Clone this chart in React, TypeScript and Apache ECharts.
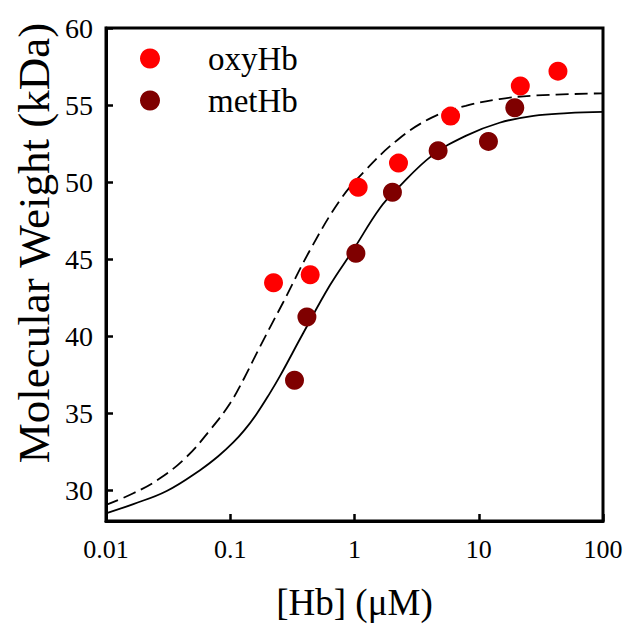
import React, { useEffect, useRef } from "react";
import * as echarts from "echarts";

const xTickLabels = ["0.01", "0.1", "1", "10", "100"];
const yTickValues = [30, 35, 40, 45, 50, 55, 60];

const oxyX = [0.223, 0.44, 1.07, 2.26, 5.93, 21.6, 43.4];
const oxyY = [43.46, 43.99, 49.66, 51.23, 54.28, 56.24, 57.2];

const metX = [0.329, 0.414, 1.026, 2.02, 4.71, 11.97, 19.5];
const metY = [37.13, 41.24, 45.38, 49.34, 52.04, 52.64, 54.82];

const solidX = [0.01, 0.0166, 0.0308, 0.0571, 0.08, 0.1057, 0.13, 0.163, 0.2085, 0.251, 0.387, 0.634, 0.977, 1.6, 2.23, 4.18, 7.85, 14.7, 27.6, 51.8, 100];
const solidY = [28.5, 29.1, 29.95, 31.3, 32.2, 33.1, 33.9, 34.95, 36.3, 37.4, 40.2, 43.3, 45.6, 48.3, 49.6, 51.7, 53.0, 53.85, 54.3, 54.47, 54.55];

const dashX = [0.01, 0.0166, 0.0272, 0.0446, 0.0687, 0.0995, 0.13, 0.163, 0.21, 0.267, 0.438, 0.764, 1.19, 2.23, 4.18, 7.85, 14.7, 27.6, 100];
const dashY = [29.05, 29.8, 30.77, 32.17, 33.9, 35.63, 37.3, 38.88, 40.6, 42.2, 45.57, 48.82, 50.66, 52.75, 54.18, 54.95, 55.39, 55.61, 55.76];

const yTitle = "Molecular Weight (kDa)";
const xTitle = "[Hb] (μM)";

const zip = (xs: number[], ys: number[]) => xs.map((x, i) => [x, ys[i]]);

const FONT = "'Liberation Serif', 'Times New Roman', serif";

export default function App() {
  const ref = useRef<HTMLDivElement>(null);
  useEffect(() => {
    if (!ref.current) return;
    const chart = echarts.init(ref.current, undefined, { renderer: "svg" });
    chart.setOption({
      animation: false,
      backgroundColor: "#ffffff",
      grid: {
        left: 106,
        right: 21,
        top: 28,
        bottom: 103,
        show: true,
        borderColor: "#000",
        borderWidth: 3,
        containLabel: false,
        outerBoundsMode: "none",
      },
      graphic: [
        {
          type: "text",
          x: 34,
          y: 243,
          rotation: Math.PI / 2,
          style: {
            text: yTitle,
            fontFamily: FONT,
            fontSize: 45,
            fill: "#000",
            textAlign: "center",
            textVerticalAlign: "middle",
          },
        },
      ],
      legend: {
        data: ["oxyHb", "metHb"],
        orient: "vertical",
        left: 135,
        top: 37,
        itemWidth: 20,
        itemHeight: 20,
        itemGap: 9,
        icon: "circle",
        textStyle: { fontFamily: FONT, fontSize: 33, color: "#000", padding: [0, 0, 0, 43] },
      },
      xAxis: {
        type: "log",
        logBase: 10,
        min: 0.01,
        max: 100,
        name: xTitle,
        nameLocation: "middle",
        nameGap: 63,
        nameTextStyle: { fontFamily: FONT, fontSize: 37, color: "#000" },
        axisLine: { show: true, lineStyle: { color: "#000", width: 3 } },
        axisTick: { show: true, inside: true, length: 7, lineStyle: { color: "#000", width: 2.5 } },
        minorTick: { show: false },
        splitLine: { show: false },
        axisLabel: {
          fontFamily: FONT,
          fontSize: 26,
          color: "#000",
          margin: 15,
          formatter: (v: number) => xTickLabels[Math.round(Math.log10(v)) + 2] ?? String(v),
        },
      },
      yAxis: {
        type: "value",
        min: 28,
        max: 60,
        axisLine: { show: true, lineStyle: { color: "#000", width: 3 } },
        axisTick: { show: true, inside: true, length: 7, lineStyle: { color: "#000", width: 2.5 }, customValues: yTickValues },
        splitLine: { show: false },
        axisLabel: {
          fontFamily: FONT,
          fontSize: 28,
          color: "#000",
          margin: 13,
          customValues: yTickValues,
        },
      },
      series: [
        {
          name: "fitMet",
          type: "line",
          data: zip(solidX, solidY),
          smooth: 0.4,
          showSymbol: false,
          lineStyle: { color: "#000", width: 1.8 },
          z: 2,
        },
        {
          name: "fitOxy",
          type: "line",
          data: zip(dashX, dashY),
          smooth: 0.4,
          showSymbol: false,
          lineStyle: { color: "#000", width: 1.8, type: [13, 6] },
          z: 2,
        },
        {
          name: "oxyHb",
          type: "scatter",
          data: zip(oxyX, oxyY),
          symbolSize: 19,
          itemStyle: { color: "#ff0000", opacity: 1 },
          z: 3,
        },
        {
          name: "metHb",
          type: "scatter",
          data: zip(metX, metY),
          symbolSize: 19,
          itemStyle: { color: "#7f0000", opacity: 1 },
          z: 3,
        },
      ],
    });
    return () => chart.dispose();
  }, []);
  return (
    <div
      ref={ref}
      style={{ position: "fixed", left: 0, top: 0, width: 624, height: 624, background: "#fff" }}
    />
  );
}
